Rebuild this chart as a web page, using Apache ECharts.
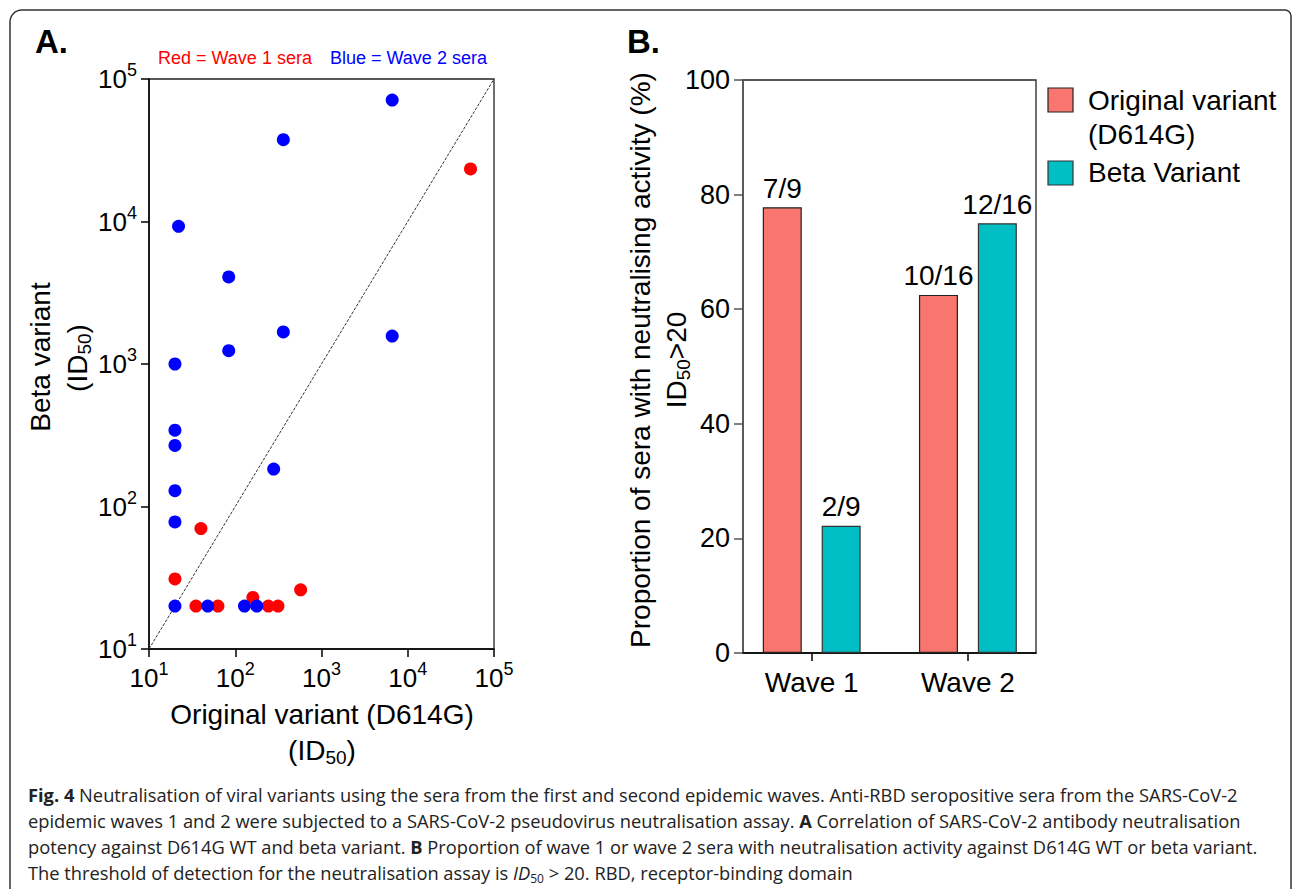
<!DOCTYPE html>
<html><head><meta charset="utf-8">
<script src="https://cdn.jsdelivr.net/npm/echarts@6/dist/echarts.min.js"></script>
<style>
html,body{margin:0;padding:0;background:#fff;width:1293px;height:889px;overflow:hidden;}
#chart{position:absolute;left:0;top:0;width:1293px;height:889px;}
#caption{position:absolute;left:28px;top:782px;font-family:'Open Sans',sans-serif;font-size:18.3px;line-height:26px;color:#222;white-space:nowrap;z-index:5;}
#caption sub{font-size:12px;vertical-align:-3px;line-height:0;}
</style></head><body>
<div id="chart"></div>
<div id="caption">
<div><b>Fig. 4</b> Neutralisation of viral variants using the sera from the first and second epidemic waves. Anti-RBD seropositive sera from the SARS-CoV-2</div>
<div>epidemic waves 1 and 2 were subjected to a SARS-CoV-2 pseudovirus neutralisation assay. <b>A</b> Correlation of SARS-CoV-2 antibody neutralisation</div>
<div>potency against D614G WT and beta variant. <b>B</b> Proportion of wave 1 or wave 2 sera with neutralisation activity against D614G WT or beta variant.</div>
<div>The threshold of detection for the neutralisation assay is <i>ID</i><sub>50</sub> &gt; 20. RBD, receptor-binding domain</div>
</div>
<script>
// ---- Panel A data (ID50 values) ----
const wave1Original = [53400, 40, 20, 35, 63, 160, 242, 313, 573];
const wave1Beta     = [23400, 70, 31, 20, 20, 23, 20, 20, 26];
const wave2Original = [6600, 361, 22, 84, 361, 6600, 84, 20, 20, 20, 279, 20, 20, 20, 48, 128, 178];
const wave2Beta     = [71100, 37500, 9250, 4080, 1680, 1570, 1240, 1000, 343, 268, 183, 129, 78, 20, 20, 20, 20];
const identityLine  = [10, 100000];

// ---- Panel B data ----
const waveCategories = ['Wave 1', 'Wave 2'];
const originalPct    = [77.8, 62.5];
const betaPct        = [22.2, 75.0];
const originalLabels = ['7/9', '10/16'];
const betaLabels     = ['2/9', '12/16'];

const FONT = 'Liberation Sans, Arial, sans-serif';
const FS = 28;
const RED_BAR = '#F8766D', TEAL_BAR = '#00BFC4';

const supLabel = v => '{b|10}{s|' + Math.round(Math.log10(v)) + '}';
const supRich = {
  b: {fontSize: 26, fontFamily: FONT, color: '#000'},
  s: {fontSize: 18, fontFamily: FONT, color: '#000', padding: [0, 0, 18, 0]}
};
const idRich = {
  t: {fontSize: FS, fontFamily: FONT, color: '#000'},
  sub: {fontSize: 19, fontFamily: FONT, color: '#000', padding: [14, 0, 0, 0]}
};
const axisLineStyle = {color: '#000', width: 1.5};

function txt(x, y, text, opts) {
  opts = opts || {};
  return {
    type: 'text', x: x, y: y, rotation: opts.rotation || 0, z: 10,
    style: {
      text: text, fill: opts.color || '#000', fontSize: opts.size || FS,
      fontFamily: FONT, fontWeight: opts.weight || 'normal',
      align: opts.align || 'center', verticalAlign: 'middle', rich: opts.rich
    }
  };
}

const chart = echarts.init(document.getElementById('chart'), null, {renderer: 'svg', width: 1293, height: 889});
chart.setOption({
  animation: false,
  backgroundColor: '#fff',
  textStyle: {fontFamily: FONT},
  grid: [
    {left: 149, top: 79, width: 345, height: 570, show: true, borderColor: '#222', borderWidth: 1.3, containLabel: false},
    {left: 743, top: 80, width: 293, height: 573, show: true, borderColor: '#222', borderWidth: 1.3, containLabel: false}
  ],
  xAxis: [
    {gridIndex: 0, type: 'log', logBase: 10, min: identityLine[0], max: identityLine[1],
     axisLine: {show: true, lineStyle: axisLineStyle},
     axisTick: {show: true, inside: false, length: 8, lineStyle: axisLineStyle},
     axisLabel: {margin: 11, formatter: supLabel, rich: supRich},
     splitLine: {show: false}},
    {gridIndex: 1, type: 'value', min: 0.56, max: 2.436,
     axisLine: {show: true, lineStyle: axisLineStyle},
     axisTick: {show: true, inside: false, length: 8, lineStyle: axisLineStyle, customValues: [1, 2]},
     axisLabel: {customValues: [1, 2], formatter: v => waveCategories[Math.round(v) - 1],
                 fontSize: FS, fontFamily: FONT, color: '#000', margin: 15},
     splitLine: {show: false}}
  ],
  yAxis: [
    {gridIndex: 0, type: 'log', logBase: 10, min: identityLine[0], max: identityLine[1],
     axisLine: {show: true, lineStyle: axisLineStyle},
     axisTick: {show: true, inside: false, length: 8, lineStyle: axisLineStyle},
     axisLabel: {margin: 12, formatter: supLabel, rich: supRich},
     splitLine: {show: false}},
    {gridIndex: 1, type: 'value', min: 0, max: 100, interval: 20,
     axisLine: {show: true, lineStyle: {color: '#555', width: 1.5}},
     axisTick: {show: true, inside: false, length: 9, lineStyle: {color: '#555', width: 1.5}},
     axisLabel: {fontSize: 27, fontFamily: FONT, color: '#000', margin: 13},
     splitLine: {show: false}}
  ],
  series: [
    {type: 'line', xAxisIndex: 0, yAxisIndex: 0, data: identityLine.map(v => [v, v]),
     symbol: 'none', silent: true, z: 1,
     lineStyle: {color: '#333', width: 1, type: [3, 1.5]}},
    {name: 'Wave 1 sera', type: 'scatter', xAxisIndex: 0, yAxisIndex: 0, z: 2,
     data: wave1Original.map((x, i) => [x, wave1Beta[i]]),
     symbolSize: 13, itemStyle: {color: '#ff0000', opacity: 1}},
    {name: 'Wave 2 sera', type: 'scatter', xAxisIndex: 0, yAxisIndex: 0, z: 3,
     data: wave2Original.map((x, i) => [x, wave2Beta[i]]),
     symbolSize: 13, itemStyle: {color: '#0000ff', opacity: 1}},
    {name: 'Original variant (D614G)', type: 'bar', xAxisIndex: 1, yAxisIndex: 1,
     data: originalPct.map((v, i) => [i + 1, v]), barWidth: 39, barGap: '51%',
     itemStyle: {color: RED_BAR, borderColor: '#222', borderWidth: 1.2},
     label: {show: true, position: 'top', distance: 5, fontSize: FS, fontFamily: FONT, color: '#000',
             formatter: p => originalLabels[p.dataIndex]}},
    {name: 'Beta Variant', type: 'bar', xAxisIndex: 1, yAxisIndex: 1,
     data: betaPct.map((v, i) => [i + 1, v]), barWidth: 39, barGap: '51%',
     itemStyle: {color: TEAL_BAR, borderColor: '#333', borderWidth: 1.2},
     label: {show: true, position: 'top', distance: 5, fontSize: FS, fontFamily: FONT, color: '#000',
             formatter: p => betaLabels[p.dataIndex]}}
  ],
  graphic: [
    {type: 'rect', z: 0, shape: {x: 10, y: 10, width: 1281, height: 1000, r: [12, 6, 0, 0]},
     style: {fill: 'none', stroke: '#333', lineWidth: 1.5}},
    txt(35, 41, 'A.', {size: 33, weight: 'bold', align: 'left'}),
    txt(627, 41, 'B.', {size: 33, weight: 'bold', align: 'left'}),
    txt(158, 58, 'Red = Wave 1 sera', {size: 18, color: '#ff0000', align: 'left'}),
    txt(330, 58, 'Blue = Wave 2 sera', {size: 18, color: '#0000ff', align: 'left'}),
    txt(322, 714, 'Original variant (D614G)'),
    txt(322, 750, '{t|(ID}{sub|50}{t|)}', {rich: idRich}),
    txt(40, 357, 'Beta variant', {rotation: Math.PI / 2}),
    txt(77, 358, '{t|(ID}{sub|50}{t|)}', {rotation: Math.PI / 2, rich: idRich}),
    txt(640, 360, 'Proportion of sera with neutralising activity (%)', {rotation: Math.PI / 2}),
    txt(676, 360, '{t|ID}{sub|50}{t|>20}', {rotation: Math.PI / 2, rich: idRich}),
    {type: 'rect', z: 10, shape: {x: 1048, y: 88, width: 25, height: 24},
     style: {fill: RED_BAR, stroke: '#222', lineWidth: 1.2}},
    txt(1088, 100, 'Original variant', {align: 'left'}),
    txt(1088, 134, '(D614G)', {align: 'left'}),
    {type: 'rect', z: 10, shape: {x: 1048, y: 161, width: 25, height: 24},
     style: {fill: TEAL_BAR, stroke: '#333', lineWidth: 1.2}},
    txt(1088, 172, 'Beta Variant', {align: 'left'})
  ]
});
</script>
</body></html>
